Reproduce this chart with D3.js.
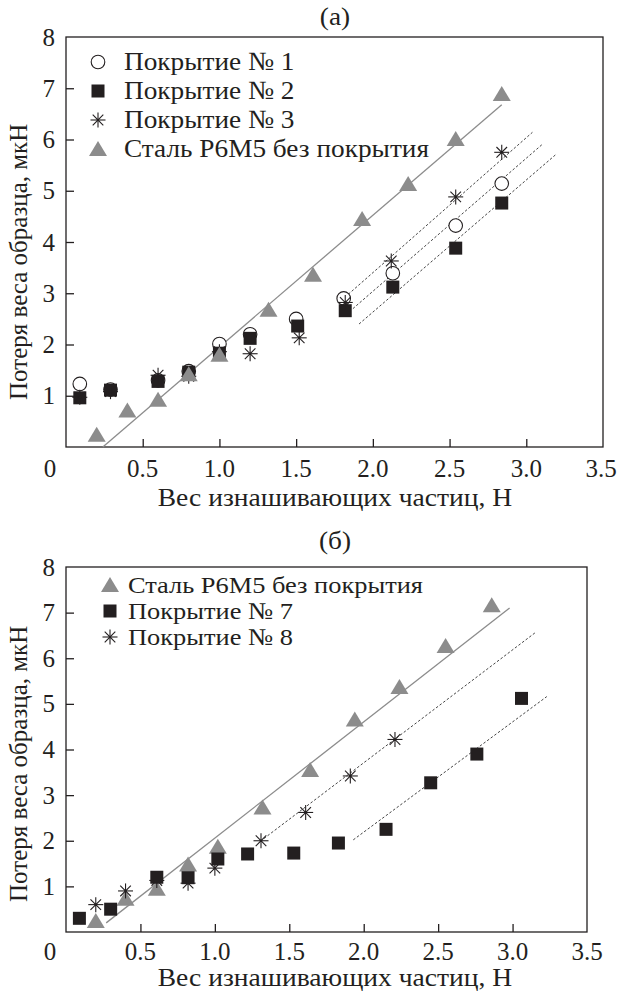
<!DOCTYPE html>
<html>
<head>
<meta charset="utf-8">
<script src="https://cdn.jsdelivr.net/npm/d3@7.9.0/dist/d3.min.js"></script>
<style>
  body { margin: 0; background: #fff; }
</style>
</head>
<body>
<div id="chart"></div>
<script>
// ---- data ----
const xTicks = [0.5, 1.0, 1.5, 2.0, 2.5, 3.0, 3.5];
const yTicks = [1, 2, 3, 4, 5, 6, 7, 8];

// panel (а)
const aSteel = [[0.2, 0.24], [0.4, 0.71], [0.6, 0.92], [0.8, 1.42], [1.0, 1.8], [1.32, 2.68],
  [1.61, 3.36], [1.93, 4.45], [2.23, 5.13], [2.54, 6.01], [2.84, 6.89]];
const aCoat1 = [[0.09, 1.23], [0.29, 1.12], [0.6, 1.3], [0.8, 1.48], [1.0, 2.01], [1.2, 2.2],
  [1.5, 2.5], [1.81, 2.9], [2.13, 3.39], [2.54, 4.32], [2.84, 5.14]];
const aCoat2 = [[0.09, 0.96], [0.29, 1.11], [0.6, 1.28], [0.8, 1.46], [1.0, 1.83], [1.2, 2.12],
  [1.51, 2.36], [1.82, 2.66], [2.13, 3.12], [2.54, 3.88], [2.84, 4.76]];
const aCoat3 = [[0.09, 0.97], [0.29, 1.08], [0.6, 1.4], [0.8, 1.38], [1.0, 1.86], [1.2, 1.82],
  [1.52, 2.13], [1.82, 2.82], [2.12, 3.63], [2.54, 4.88], [2.84, 5.75]];
const aSteelFit = [[0.24, 0], [2.84, 6.68]];
const aCoat3Fit = [[1.84, 2.98], [3.04, 6.14]];
const aCoat1Fit = [[1.87, 2.7], [3.11, 5.92]];
const aCoat2Fit = [[1.91, 2.4], [3.19, 5.7]];

// panel (б)
const bSteel = [[0.2, 0.24], [0.4, 0.73], [0.61, 0.95], [0.82, 1.48], [1.02, 1.87], [1.32, 2.73],
  [1.64, 3.55], [1.94, 4.66], [2.24, 5.37], [2.55, 6.27], [2.86, 7.16]];
const bCoat7 = [[0.09, 0.3], [0.3, 0.5], [0.61, 1.2], [0.82, 1.19], [1.02, 1.6], [1.22, 1.71],
  [1.53, 1.73], [1.83, 1.95], [2.15, 2.25], [2.45, 3.27], [2.76, 3.9], [3.06, 5.12]];
const bCoat8 = [[0.2, 0.6], [0.4, 0.9], [0.61, 1.13], [0.82, 1.07], [1.0, 1.4], [1.31, 2.0],
  [1.61, 2.62], [1.91, 3.42], [2.21, 4.22]];
const bSteelFit = [[0.27, 0.2], [2.98, 7.1]];
const bCoat8Fit = [[1.33, 2.05], [3.16, 6.58]];
const bCoat7Fit = [[1.93, 2.02], [3.23, 5.16]];

const width = 618, height = 991;
const gray = "#8c8c8c", black = "#231f20", ink = "#231f20";

const svg = d3.select("#chart").append("svg")
  .attr("width", width).attr("height", height);

// text helper; sx stretches the glyphs a little to match the wider journal font
function txt(g, x, y, s, size, anchor, sx) {
  return g.append("text")
    .attr("transform", `translate(${x},${y}) scale(${sx || 1},1)`)
    .style("font-family", "Liberation Serif").attr("font-size", size)
    .attr("text-anchor", anchor || "start").attr("fill", ink).text(s);
}

function symbol(g, type, x, y) {
  if (type === "triangle") {
    g.append("path")
      .attr("d", `M${x},${y - 8}L${x + 9},${y + 7}L${x - 9},${y + 7}Z`)
      .attr("fill", gray);
  } else if (type === "square") {
    g.append("rect").attr("x", x - 6.5).attr("y", y - 6.5).attr("width", 13).attr("height", 13)
      .attr("fill", black);
  } else if (type === "circle") {
    g.append("circle").attr("cx", x).attr("cy", y).attr("r", 6.8)
      .attr("fill", "#fff").attr("stroke", black).attr("stroke-width", 1.1);
  } else if (type === "star") {
    const r = 7.5;
    [0, 45, 90, 135].forEach(a => {
      const t = a * Math.PI / 180;
      g.append("line")
        .attr("x1", x - r * Math.cos(t)).attr("y1", y - r * Math.sin(t))
        .attr("x2", x + r * Math.cos(t)).attr("y2", y + r * Math.sin(t))
        .attr("stroke", black).attr("stroke-width", 1.1);
    });
    g.append("circle").attr("cx", x).attr("cy", y).attr("r", 1.3).attr("fill", black);
  }
}

function panel(p) {
  const x = d3.scaleLinear().domain([0, 3.5]).range([p.left, p.right]);
  const y = d3.scaleLinear().domain([0, 8]).range([p.bottom, p.top]);
  const g = svg.append("g");

  txt(g, 335, p.titleY, p.title, 26, "middle", 1.05);

  // frame
  g.append("rect").attr("x", p.left).attr("y", p.top)
    .attr("width", p.right - p.left).attr("height", p.bottom - p.top)
    .attr("fill", "none").attr("stroke", ink).attr("stroke-width", 1.3);

  // inward ticks
  const xAxis = g.append("g").attr("transform", `translate(0,${p.bottom})`)
    .call(d3.axisTop(x).tickValues(xTicks.slice(0, -1)).tickSize(8).tickFormat(""));
  xAxis.select(".domain").remove();
  xAxis.selectAll("line").attr("stroke", ink).attr("stroke-width", 1.3);
  const yAxis = g.append("g").attr("transform", `translate(${p.left},0)`)
    .call(d3.axisRight(y).tickValues(yTicks.slice(0, -1)).tickSize(8).tickFormat(""));
  yAxis.select(".domain").remove();
  yAxis.selectAll("line").attr("stroke", ink).attr("stroke-width", 1.3);

  // tick labels
  xTicks.forEach(d => txt(g, Math.min(x(d), 601), p.bottom + p.tickDy, d.toFixed(1), 25, "middle"));
  txt(g, 50, p.bottom + p.tickDy, "0", 25, "middle");
  yTicks.forEach(d => txt(g, 55, y(d) + 8.5, d, 25, "end"));

  // axis titles
  txt(g, 335, p.bottom + p.titleDy, "Вес изнашивающих частиц, Н", 26, "middle", 1.06);
  g.append("text")
    .attr("transform", `translate(27,${p.ylabStart}) rotate(-90)`)
    .style("font-family", "Liberation Serif").attr("font-size", 25).attr("fill", ink)
    .text("Потеря веса образца, мкН");

  // fit lines
  const line = d3.line().x(d => x(d[0])).y(d => y(d[1]));
  p.fits.forEach(f => {
    g.append("path").attr("d", line(f.pts)).attr("fill", "none")
      .attr("stroke", f.solid ? gray : "#444").attr("stroke-width", f.solid ? 1.3 : 1)
      .attr("stroke-dasharray", f.solid ? null : "2.5,2");
  });

  // points
  p.series.forEach(s => {
    s.data.forEach(d => symbol(g, s.type, x(d[0]), y(d[1])));
  });

  // legend
  p.legend.forEach((s, i) => {
    const ly = p.legendY + i * p.legendStep;
    symbol(g, s.type, p.legendX, ly);
    txt(g, p.legendX + p.legendGap, ly + 8, s.name, p.legendSize, "start", p.legendStretch);
  });
}

const c1 = { name: "Покрытие № 1", type: "circle", data: aCoat1 };
const c2 = { name: "Покрытие № 2", type: "square", data: aCoat2 };
const c3 = { name: "Покрытие № 3", type: "star", data: aCoat3 };
const sa = { name: "Сталь Р6М5 без покрытия", type: "triangle", data: aSteel };

panel({
  title: "(а)", titleY: 25, left: 66, right: 603, top: 37, bottom: 447,
  tickDy: 30, titleDy: 59, ylabStart: 400,
  series: [c1, c2, c3, sa],
  legend: [c1, c2, c3, sa], legendX: 98, legendY: 62, legendStep: 29, legendGap: 26,
  legendSize: 26, legendStretch: 1.05,
  fits: [{ pts: aSteelFit, solid: true }, { pts: aCoat3Fit }, { pts: aCoat1Fit }, { pts: aCoat2Fit }]
});

const sb = { name: "Сталь Р6М5 без покрытия", type: "triangle", data: bSteel };
const c7 = { name: "Покрытие № 7", type: "square", data: bCoat7 };
const c8 = { name: "Покрытие № 8", type: "star", data: bCoat8 };

panel({
  title: "(б)", titleY: 549, left: 66, right: 587, top: 567, bottom: 932,
  tickDy: 28, titleDy: 54, ylabStart: 902,
  series: [sb, c8, c7],
  legend: [sb, c7, c8], legendX: 110, legendY: 585, legendStep: 26, legendGap: 18,
  legendSize: 24, legendStretch: 1.1,
  fits: [{ pts: bSteelFit, solid: true }, { pts: bCoat8Fit }, { pts: bCoat7Fit }]
});
</script>
</body>
</html>
